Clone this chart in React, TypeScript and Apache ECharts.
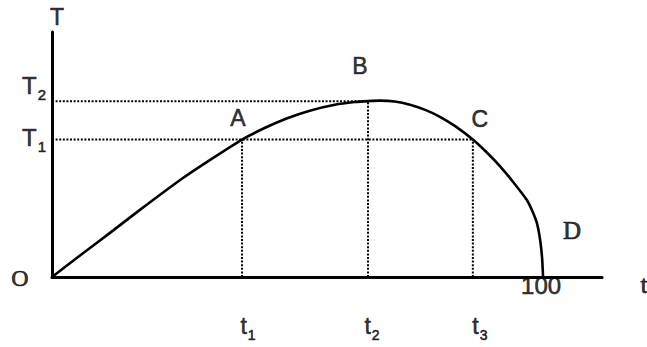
import React, { useEffect, useRef } from "react";
import * as echarts from "echarts";

// Axis ranges
const xMax = 112;
const yMax = 100;

// Key levels
const T1 = 56.1;
const T2 = 71.7;
const t1 = 38.7;
const t2 = 64.35;
const t3 = 85.7;
const tEnd = 100;

// Curve O -> A -> B -> C -> D
const curveX = [0, 5.7, 11.8, 17.9, 26.1, 32.2, 38.7, 43.4, 47.9, 52.5, 57.6, 61.7, 64.35, 66.8, 69.8, 72.9, 76.0, 79.0, 82.1, 85.7, 88.6, 91.2, 93.9, 96.7, 97.9, 98.8, 99.4, 99.8, 100];
const curveY = [0, 8.8, 18.0, 27.4, 39.6, 47.8, 56.1, 60.9, 64.8, 67.9, 70.3, 71.4, 71.8, 72.0, 71.6, 70.3, 68.2, 65.4, 61.6, 56.1, 50.7, 45.3, 38.8, 31.4, 26.5, 21.6, 15.1, 7.8, 0];

// Text labels
const pointLabels = ["A", "B", "C"];
const pointLabelX = [t1, t2, t3];
const pointLabelY = [T1, T2, T1];
const timeLabels = ["1", "2", "3"];
const timeLabelX = [t1, t2, t3];
const levelLabels = ["2", "1"];
const levelLabelY = [T2, T1];

const SANS = "'Liberation Sans', Arial, sans-serif";
const SERIF = "'Liberation Serif', 'Times New Roman', serif";

export default function App() {
  const ref = useRef<HTMLDivElement>(null);

  useEffect(() => {
    if (!ref.current) return;
    const chart = echarts.init(ref.current, undefined, { renderer: "svg" });

    const black = "#000";
    const heavy = { textBorderColor: black, textBorderWidth: 0.6 };
    const dotStyle = { color: black, width: 2, type: [2, 1.6] as any };
    const dotted = (pts: number[][]) => ({
      type: "line",
      data: pts,
      symbol: "none",
      lineStyle: dotStyle,
      silent: true,
      z: 2,
    });

    const DROP = 4;
    const rich = (size: number, sub: number, font: string) => ({
      m: { fontSize: size, fontFamily: font, color: black, lineHeight: size, verticalAlign: "top", ...heavy },
      s: { fontSize: sub, fontFamily: font, color: black, lineHeight: size + DROP, verticalAlign: "bottom", padding: [0, 0, 0, 1], ...heavy },
    });

    const lbl = (value: number[], text: string, offset: number[], opts: any = {}) => ({
      value,
      label: {
        show: true,
        position: "inside",
        formatter: text,
        offset,
        fontSize: 23,
        fontFamily: SANS,
        color: black,
        ...heavy,
        ...opts,
      },
    });

    const pointOffsets = [
      [-4, -21.5],
      [-8, -35],
      [7, -20.5],
    ];
    const timeOffsets = [
      [6, 49 + DROP / 2],
      [4, 49 + DROP / 2],
      [7, 49 + DROP / 2],
    ];
    const levelOffsets = [
      [-18, -15.5 + DROP / 2],
      [-18, -2 + DROP / 2],
    ];

    const labelData: any[] = [];
    pointLabels.forEach((n, i) => labelData.push(lbl([pointLabelX[i], pointLabelY[i]], n, pointOffsets[i])));
    timeLabels.forEach((n, i) =>
      labelData.push(
        lbl([timeLabelX[i], 0], `{m|t}{s|${n}}`, timeOffsets[i], { rich: rich(23, 14, SANS) })
      )
    );
    levelLabels.forEach((n, i) =>
      labelData.push(
        lbl([0, levelLabelY[i]], `{m|T}{s|${n}}`, levelOffsets[i], { rich: rich(24, 15, SANS) })
      )
    );
    labelData.push(lbl([0, yMax], "T", [5, -15]));
    labelData.push(lbl([0, 0], "O", [-32, 1], { fontFamily: SERIF, fontSize: 24, textBorderWidth: 0.7 }));
    labelData.push(lbl([tEnd, 0], "D", [29, -47], { fontFamily: SERIF, fontSize: 25, textBorderWidth: 0.7 }));
    labelData.push(lbl([tEnd, 0], "100", [-2, 8], { fontSize: 24 }));
    labelData.push(lbl([xMax, 0], "t", [42, 7], { fontFamily: SERIF, fontSize: 26, textBorderWidth: 0.7 }));

    chart.setOption({
      animation: false,
      backgroundColor: "#fff",
      grid: { left: 52, right: 45, top: 32, bottom: 70, containLabel: false },
      xAxis: {
        type: "value",
        min: 0,
        max: xMax,
        axisLine: { show: true, lineStyle: { color: black, width: 3 } },
        axisTick: { show: false },
        axisLabel: { show: false },
        splitLine: { show: false },
      },
      yAxis: {
        type: "value",
        min: 0,
        max: yMax,
        axisLine: { show: true, lineStyle: { color: black, width: 3 } },
        axisTick: { show: false },
        axisLabel: { show: false },
        splitLine: { show: false },
      },
      series: [
        dotted([[0, T2], [t2, T2]]),
        dotted([[0, T1], [t3, T1]]),
        dotted([[t1, 0], [t1, T1]]),
        dotted([[t2, 0], [t2, T2]]),
        dotted([[t3, 0], [t3, T1]]),
        {
          type: "line",
          data: curveX.map((x, i) => [x, curveY[i]]),
          symbol: "none",
          smooth: 0.2,
          lineStyle: { color: black, width: 2.6 },
          z: 3,
        },
        {
          type: "scatter",
          symbolSize: 0,
          data: labelData,
          silent: true,
          z: 5,
        },
      ],
    });

    return () => chart.dispose();
  }, []);

  return (
    <div
      ref={ref}
      style={{ position: "fixed", left: 0, top: 0, width: 647, height: 347 }}
    />
  );
}
